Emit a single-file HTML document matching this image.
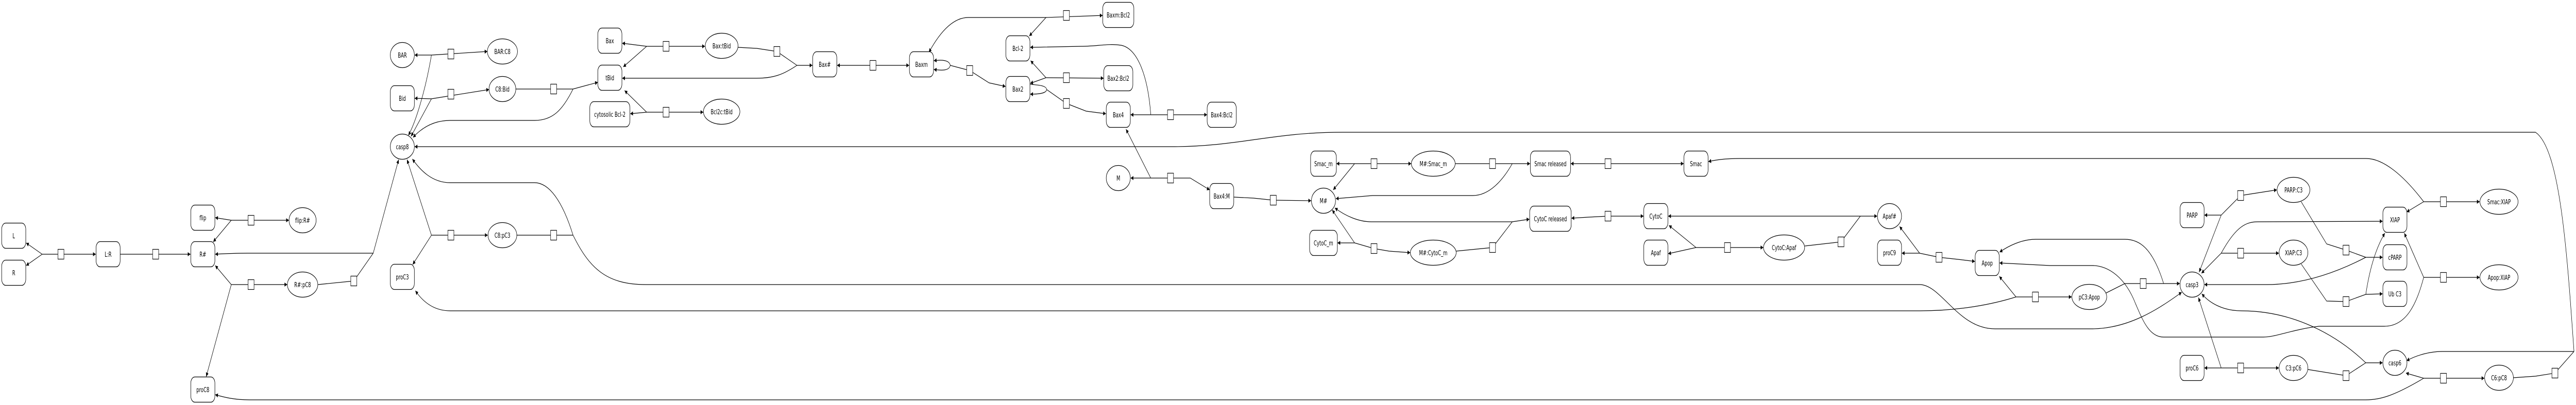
<!DOCTYPE html>
<html><head><meta charset="utf-8"><style>
html,body{margin:0;padding:0;background:#fff;width:100vw;height:100vh;overflow:hidden;}
svg{display:block;width:100vw;height:100vh;}
text{font-family:"DejaVu Sans","Liberation Sans",sans-serif;font-size:13px;text-anchor:middle;fill:#000;}
.e{fill:none;stroke:#000;stroke-width:1.2;}
.n{fill:#fff;stroke:#000;stroke-width:1.3;}
.s{fill:#fff;stroke:#000;stroke-width:1.2;}
</style></head><body>
<svg viewBox="0 0 7696 787" preserveAspectRatio="none" xmlns="http://www.w3.org/2000/svg">
<defs>
<marker id="a" viewBox="0 0 10 10" refX="10" refY="5" markerWidth="11" markerHeight="8" markerUnits="userSpaceOnUse" orient="auto-start-reverse"><path d="M0,0 L10,5 L0,10 z" fill="#000"/></marker>
</defs>
<g class="e">
<path d="M126,494 L78,472" marker-end="url(#a)"/>
<path d="M126,494 L78,516" marker-end="url(#a)"/>
<path d="M126,494 L286,494" marker-end="url(#a)"/>
<path d="M359,494 L569,494" marker-end="url(#a)"/>
<path d="M691,428 L643,423" marker-end="url(#a)"/>
<path d="M691,428 L637,470" marker-end="url(#a)"/>
<path d="M691,428 L863,428" marker-end="url(#a)"/>
<path d="M691,553 L643,516" marker-end="url(#a)"/>
<path d="M691,553 L616,732" marker-end="url(#a)"/>
<path d="M691,553 L858,553" marker-end="url(#a)"/>
<path d="M950,553 L1057,546 L1115,492"/>
<path d="M1115,492 L1191,310" marker-end="url(#a)"/>
<path d="M1115,492 L740,492 C700,492 670,493 643,494" marker-end="url(#a)"/>
<path d="M7241,735 C7150,770 7110,777 7068,777 L746,777 C700,777 670,772 643,767" marker-end="url(#a)"/>
<path d="M1289,107 L1239,107" marker-end="url(#a)"/>
<path d="M1289,107 L1456,100" marker-end="url(#a)"/>
<path d="M1289,107 C1270,180 1240,240 1220,263" marker-end="url(#a)"/>
<path d="M1289,192 L1239,191" marker-end="url(#a)"/>
<path d="M1289,192 L1461,174" marker-end="url(#a)"/>
<path d="M1289,192 L1228,265" marker-end="url(#a)"/>
<path d="M1541,173 L1712,173"/>
<path d="M1712,173 L1786,160" marker-end="url(#a)"/>
<path d="M1712,173 C1680,215 1650,234 1597,234 L1345,234 C1290,234 1255,252 1234,267" marker-end="url(#a)"/>
<path d="M7690,683 C7670,500 7650,290 7575,257 L4010,257 C3800,257 3700,285 3500,285 L1239,285" marker-end="url(#a)"/>
<path d="M7509,734 L7575,731 L7633,725 L7690,683"/>
<path d="M7690,683 L7296,683 C7260,683 7220,690 7190,701" marker-end="url(#a)"/>
<path d="M1289,457 L1216,310" marker-end="url(#a)"/>
<path d="M1289,457 L1233,514" marker-end="url(#a)"/>
<path d="M1289,457 L1457,457" marker-end="url(#a)"/>
<path d="M1544,457 L1712,457"/>
<path d="M1712,457 C1680,390 1640,355 1597,355 L1345,355 C1290,355 1255,330 1232,309" marker-end="url(#a)"/>
<path d="M1712,457 C1760,520 1810,553 1929,553 L5735,553 C5800,553 5850,639 5960,639 L6248,639 C6360,639 6450,600 6518,568" marker-end="url(#a)"/>
<path d="M6023,577 C5950,592 5850,604 5736,604 L1345,604 C1295,604 1262,585 1241,565" marker-end="url(#a)"/>
<path d="M1932,90 L1859,84" marker-end="url(#a)"/>
<path d="M1932,90 L1862,130" marker-end="url(#a)"/>
<path d="M1932,90 L2106,90" marker-end="url(#a)"/>
<path d="M2205,92 L2261,94 L2321,100 L2381,127"/>
<path d="M2381,127 L2427,127" marker-end="url(#a)"/>
<path d="M2381,127 C2340,145 2310,152 2261,152 L1859,152" marker-end="url(#a)"/>
<path d="M1932,218 L1883,221" marker-end="url(#a)"/>
<path d="M1932,218 L1866,176" marker-end="url(#a)"/>
<path d="M1932,218 L2101,218" marker-end="url(#a)"/>
<path d="M2501,127 L2716,127" marker-start="url(#a)" marker-end="url(#a)"/>
<path d="M2839,127 C2836,116 2812,116 2790,118" marker-end="url(#a)"/>
<path d="M2839,127 C2836,138 2812,137 2790,135" marker-end="url(#a)"/>
<path d="M2839,127 L2897,137 L2955,161 L3004,168" marker-end="url(#a)"/>
<path d="M3125,34 L3294,30" marker-end="url(#a)"/>
<path d="M3125,34 L3075,70" marker-end="url(#a)"/>
<path d="M3125,34 L2893,34 C2840,34 2800,72 2775,102" marker-end="url(#a)"/>
<path d="M3125,151 L3297,152" marker-end="url(#a)"/>
<path d="M3125,151 L3079,118" marker-end="url(#a)"/>
<path d="M3125,151 L3078,162" marker-end="url(#a)"/>
<path d="M3127,174 C3126,166 3100,165 3078,164"/>
<path d="M3127,174 C3126,182 3100,183 3078,183" marker-end="url(#a)"/>
<path d="M3127,174 L3186,201 L3245,216 L3304,221" marker-end="url(#a)"/>
<path d="M3438,223 L3378,223" marker-end="url(#a)"/>
<path d="M3438,223 L3606,223" marker-end="url(#a)"/>
<path d="M3438,223 C3430,150 3400,95 3350,88 C3310,84 3280,90 3230,90 L3078,92" marker-end="url(#a)"/>
<path d="M3438,346 L3378,346" marker-end="url(#a)"/>
<path d="M3438,346 L3364,251" marker-end="url(#a)"/>
<path d="M3438,346 L3556,346 L3614,369" marker-end="url(#a)"/>
<path d="M3686,383 L3745,385 L3804,389 L3917,390" marker-end="url(#a)"/>
<path d="M4047,318 L3993,318" marker-end="url(#a)"/>
<path d="M4047,318 L3983,369" marker-end="url(#a)"/>
<path d="M4047,318 L4216,318" marker-end="url(#a)"/>
<path d="M4348,318 L4571,318" marker-end="url(#a)"/>
<path d="M4518,318 C4490,350 4450,380 4400,380 L4100,380 L3991,386" marker-end="url(#a)"/>
<path d="M4047,472 L3996,472" marker-end="url(#a)"/>
<path d="M4047,472 L3980,408" marker-end="url(#a)"/>
<path d="M4047,472 L4105,483 L4150,488 L4213,491" marker-end="url(#a)"/>
<path d="M4350,488 L4459,481 L4518,431 L4569,426" marker-end="url(#a)"/>
<path d="M4518,431 L4097,431 C4060,431 4020,420 3988,404" marker-end="url(#a)"/>
<path d="M4693,318 L5030,318" marker-start="url(#a)" marker-end="url(#a)"/>
<path d="M4695,424 L4745,422 L4804,420 L4910,420" marker-start="url(#a)" marker-end="url(#a)"/>
<path d="M7241,392 C7180,340 7120,308 7069,308 L5200,308 C5150,308 5125,311 5104,314" marker-end="url(#a)"/>
<path d="M5067,481 L4984,493" marker-end="url(#a)"/>
<path d="M5067,481 L4986,438" marker-end="url(#a)"/>
<path d="M5067,481 L5268,481" marker-end="url(#a)"/>
<path d="M5392,478 L5500,470 L5558,420"/>
<path d="M5558,420 L4984,420" marker-end="url(#a)"/>
<path d="M5558,420 L5608,420" marker-end="url(#a)"/>
<path d="M5735,492 L5682,492" marker-end="url(#a)"/>
<path d="M5735,492 L5675,440" marker-end="url(#a)"/>
<path d="M5735,492 L5793,500 L5850,504 L5900,508" marker-end="url(#a)"/>
<path d="M6023,577 L5973,537" marker-end="url(#a)"/>
<path d="M6023,577 L6189,577" marker-end="url(#a)"/>
<path d="M6290,570 L6348,551 L6512,551" marker-end="url(#a)"/>
<path d="M6464,551 C6430,480 6390,465 6348,465 L6082,465 C6040,465 6000,478 5974,490" marker-end="url(#a)"/>
<path d="M7241,539 C7220,590 7190,634 7123,634 L6928,634 C6850,640 6800,655 6762,655 L6464,655 C6420,655 6400,620 6380,590 C6350,540 6300,516 6250,516 L6124,516 L5974,511" marker-end="url(#a)"/>
<path d="M6636,418 L6586,418" marker-end="url(#a)"/>
<path d="M6636,418 L6694,380 L6802,369" marker-end="url(#a)"/>
<path d="M6636,418 L6570,529" marker-end="url(#a)"/>
<path d="M6636,492 L6808,492" marker-end="url(#a)"/>
<path d="M6636,492 L6577,531" marker-end="url(#a)"/>
<path d="M6636,492 C6680,440 6710,431 6746,431 L7118,430" marker-end="url(#a)"/>
<path d="M6875,392 L6951,474 L7009,486 L7068,500 L7118,500" marker-end="url(#a)"/>
<path d="M7068,500 C6950,540 6850,553 6771,553 L6586,553" marker-end="url(#a)"/>
<path d="M6875,513 L6951,585 L7009,586 L7068,572 L7118,571" marker-end="url(#a)"/>
<path d="M7068,572 C7080,520 7100,480 7125,453" marker-end="url(#a)"/>
<path d="M6636,715 L6586,715" marker-end="url(#a)"/>
<path d="M6636,715 L6808,715" marker-end="url(#a)"/>
<path d="M6636,715 L6568,578" marker-end="url(#a)"/>
<path d="M6895,718 L7009,730 L7068,705 L7118,705" marker-end="url(#a)"/>
<path d="M7068,705 C6980,650 6850,604 6696,604 C6640,604 6600,588 6578,571" marker-end="url(#a)"/>
<path d="M7241,392 L7190,412" marker-end="url(#a)"/>
<path d="M7241,392 L7408,392" marker-end="url(#a)"/>
<path d="M7241,539 L7183,453" marker-end="url(#a)"/>
<path d="M7241,539 L7408,539" marker-end="url(#a)"/>
<path d="M7241,735 L7188,725" marker-end="url(#a)"/>
<path d="M7241,735 L7422,735" marker-end="url(#a)"/>
</g>
<g class="s">
<rect x="173" y="484.5" width="18" height="19"/><rect x="456" y="484.5" width="18" height="19"/>
<rect x="741" y="418.5" width="18" height="19"/><rect x="741" y="543.5" width="18" height="19"/>
<rect x="1048" y="536.5" width="18" height="19"/><rect x="1338" y="95.5" width="18" height="19"/>
<rect x="1338" y="173.5" width="18" height="19"/><rect x="1645" y="163.5" width="18" height="19"/>
<rect x="1338" y="447.5" width="18" height="19"/><rect x="1645" y="447.5" width="18" height="19"/>
<rect x="1981" y="80.5" width="18" height="19"/><rect x="2312" y="90.5" width="18" height="19"/>
<rect x="1981" y="208.5" width="18" height="19"/><rect x="2599" y="117.5" width="18" height="19"/>
<rect x="2888" y="127.5" width="18" height="19"/><rect x="3177" y="20.5" width="18" height="19"/>
<rect x="3177" y="141.5" width="18" height="19"/><rect x="3177" y="191.5" width="18" height="19"/>
<rect x="3488" y="213.5" width="18" height="19"/><rect x="3488" y="336.5" width="18" height="19"/>
<rect x="3795" y="379.5" width="18" height="19"/><rect x="4096" y="308.5" width="18" height="19"/>
<rect x="4450" y="308.5" width="18" height="19"/><rect x="4096" y="473.5" width="18" height="19"/>
<rect x="4450" y="471.5" width="18" height="19"/><rect x="4795" y="308.5" width="18" height="19"/>
<rect x="4795" y="410.5" width="18" height="19"/><rect x="5152" y="471.5" width="18" height="19"/>
<rect x="5491" y="460.5" width="18" height="19"/><rect x="5784" y="490.5" width="18" height="19"/>
<rect x="6072" y="567.5" width="18" height="19"/><rect x="6394" y="541.5" width="18" height="19"/>
<rect x="6685" y="370.5" width="18" height="19"/><rect x="6685" y="482.5" width="18" height="19"/>
<rect x="7000" y="476.5" width="18" height="19"/><rect x="7000" y="576.5" width="18" height="19"/>
<rect x="6685" y="705.5" width="18" height="19"/><rect x="7000" y="720.5" width="18" height="19"/>
<rect x="7291" y="382.5" width="18" height="19"/><rect x="7291" y="529.5" width="18" height="19"/>
<rect x="7291" y="725.5" width="18" height="19"/><rect x="7624" y="715.5" width="18" height="19"/>
</g>
<g class="n">
<rect x="5" y="433.5" width="72" height="49" rx="12"/>
<rect x="5" y="505.5" width="72" height="49" rx="12"/>
<rect x="287" y="469.5" width="72" height="49" rx="12"/>
<rect x="570" y="469.5" width="72" height="49" rx="12"/>
<rect x="570" y="398.5" width="72" height="49" rx="12"/>
<rect x="570" y="732.5" width="72" height="49" rx="12"/>
<rect x="1166" y="166.5" width="72" height="49" rx="12"/>
<rect x="1166" y="513.5" width="72" height="49" rx="12"/>
<rect x="1786" y="54.5" width="72" height="49" rx="12"/>
<rect x="1786" y="126.5" width="72" height="49" rx="12"/>
<rect x="1762" y="197.5" width="120" height="49" rx="12"/>
<rect x="2428" y="100.5" width="72" height="49" rx="12"/>
<rect x="2717" y="100.5" width="72" height="49" rx="12"/>
<rect x="3005" y="69.5" width="72" height="49" rx="12"/>
<rect x="3005" y="148.5" width="72" height="49" rx="12"/>
<rect x="3294.5" y="4.5" width="93" height="49" rx="12"/>
<rect x="3297.5" y="127.5" width="87" height="49" rx="12"/>
<rect x="3305" y="198.5" width="72" height="49" rx="12"/>
<rect x="3606.5" y="198.5" width="87" height="49" rx="12"/>
<rect x="3614" y="356.5" width="72" height="49" rx="12"/>
<rect x="3915.5" y="293.5" width="77" height="49" rx="12"/>
<rect x="3912.5" y="447.5" width="83" height="49" rx="12"/>
<rect x="4572" y="293.5" width="120" height="49" rx="12"/>
<rect x="4570" y="400.5" width="124" height="49" rx="12"/>
<rect x="5031" y="293.5" width="72" height="49" rx="12"/>
<rect x="4911" y="395.5" width="72" height="49" rx="12"/>
<rect x="4911" y="466.5" width="72" height="49" rx="12"/>
<rect x="5609" y="466.5" width="72" height="49" rx="12"/>
<rect x="5901" y="486.5" width="72" height="49" rx="12"/>
<rect x="6513" y="393.5" width="72" height="49" rx="12"/>
<rect x="6513" y="690.5" width="72" height="49" rx="12"/>
<rect x="7119" y="402.5" width="72" height="49" rx="12"/>
<rect x="7119" y="475.5" width="72" height="49" rx="12"/>
<rect x="7119" y="546.5" width="72" height="49" rx="12"/>
<ellipse cx="904" cy="428" rx="40.5" ry="24.5"/>
<ellipse cx="904" cy="553" rx="45.5" ry="24.5"/>
<ellipse cx="1202" cy="107" rx="36" ry="24.5"/>
<ellipse cx="1202" cy="285" rx="36" ry="24.5"/>
<ellipse cx="1501" cy="100" rx="45" ry="24.5"/>
<ellipse cx="1501" cy="173" rx="40" ry="24.5"/>
<ellipse cx="1501" cy="457" rx="43" ry="24.5"/>
<ellipse cx="2156" cy="89" rx="49" ry="24.5"/>
<ellipse cx="2156" cy="217" rx="54.5" ry="24.5"/>
<ellipse cx="3341" cy="346" rx="36" ry="24.5"/>
<ellipse cx="3954" cy="390" rx="36" ry="24.5"/>
<ellipse cx="4282" cy="318" rx="65.5" ry="24.5"/>
<ellipse cx="4282" cy="491" rx="68.5" ry="24.5"/>
<ellipse cx="5330" cy="481" rx="61.5" ry="24.5"/>
<ellipse cx="5645" cy="420" rx="36" ry="24.5"/>
<ellipse cx="6549" cy="553" rx="36" ry="24.5"/>
<ellipse cx="6242" cy="577" rx="52" ry="24.5"/>
<ellipse cx="6852" cy="369" rx="49" ry="24.5"/>
<ellipse cx="6852" cy="491" rx="43" ry="24.5"/>
<ellipse cx="6852" cy="715" rx="43" ry="24.5"/>
<ellipse cx="7155" cy="705" rx="36" ry="24.5"/>
<ellipse cx="7466" cy="392" rx="57" ry="24.5"/>
<ellipse cx="7466" cy="539" rx="57" ry="24.5"/>
<ellipse cx="7466" cy="734" rx="43" ry="24.5"/>
</g>
<g>
<text x="41" y="463">L</text><text x="41" y="535">R</text><text x="323" y="499">L:R</text>
<text x="606" y="499">R#</text><text x="606" y="428">flip</text><text x="606" y="762">proC8</text>
<text x="1202" y="196">Bid</text><text x="1202" y="543">proC3</text><text x="1822" y="84">Bax</text>
<text x="1822" y="156">tBid</text><text x="1822" y="227">cytosolic Bcl-2</text><text x="2464" y="130">Bax#</text>
<text x="2753" y="130">Baxm</text><text x="3041" y="99">Bcl-2</text><text x="3041" y="178">Bax2</text>
<text x="3341" y="34">Baxm:Bcl2</text><text x="3341" y="157">Bax2:Bcl2</text><text x="3341" y="228">Bax4</text>
<text x="3650" y="228">Bax4:Bcl2</text><text x="3650" y="386">Bax4:M</text><text x="3954" y="323">Smac_m</text>
<text x="3954" y="477">CytoC_m</text><text x="4632" y="323">Smac released</text><text x="4632" y="430">CytoC released</text>
<text x="5067" y="323">Smac</text><text x="4947" y="425">CytoC</text><text x="4947" y="496">Apaf</text>
<text x="5645" y="496">proC9</text><text x="5937" y="516">Apop</text><text x="6549" y="423">PARP</text>
<text x="6549" y="720">proC6</text><text x="7155" y="432">XIAP</text><text x="7155" y="505">cPARP</text>
<text x="7155" y="576">Ub C3</text>
<text x="904" y="433">flip:R#</text><text x="904" y="558">R#:pC8</text><text x="1202" y="112">BAR</text>
<text x="1202" y="290">casp8</text><text x="1501" y="105">BAR:C8</text><text x="1501" y="178">C8:Bid</text>
<text x="1501" y="462">C8:pC3</text><text x="2156" y="94">Bax:tBid</text><text x="2156" y="222">Bcl2c:tBid</text>
<text x="3341" y="351">M</text><text x="3954" y="395">M#</text><text x="4282" y="323">M#:Smac_m</text>
<text x="4282" y="496">M#:CytoC_m</text><text x="5330" y="486">CytoC:Apaf</text><text x="5645" y="425">Apaf#</text>
<text x="6549" y="558">casp3</text><text x="6242" y="582">pC3:Apop</text><text x="6852" y="374">PARP:C3</text>
<text x="6852" y="496">XIAP:C3</text><text x="6852" y="720">C3:pC6</text><text x="7155" y="710">casp6</text>
<text x="7466" y="397">Smac:XIAP</text><text x="7466" y="544">Apop:XIAP</text><text x="7466" y="739">C6:pC8</text>
</g>
</svg>
</body></html>
